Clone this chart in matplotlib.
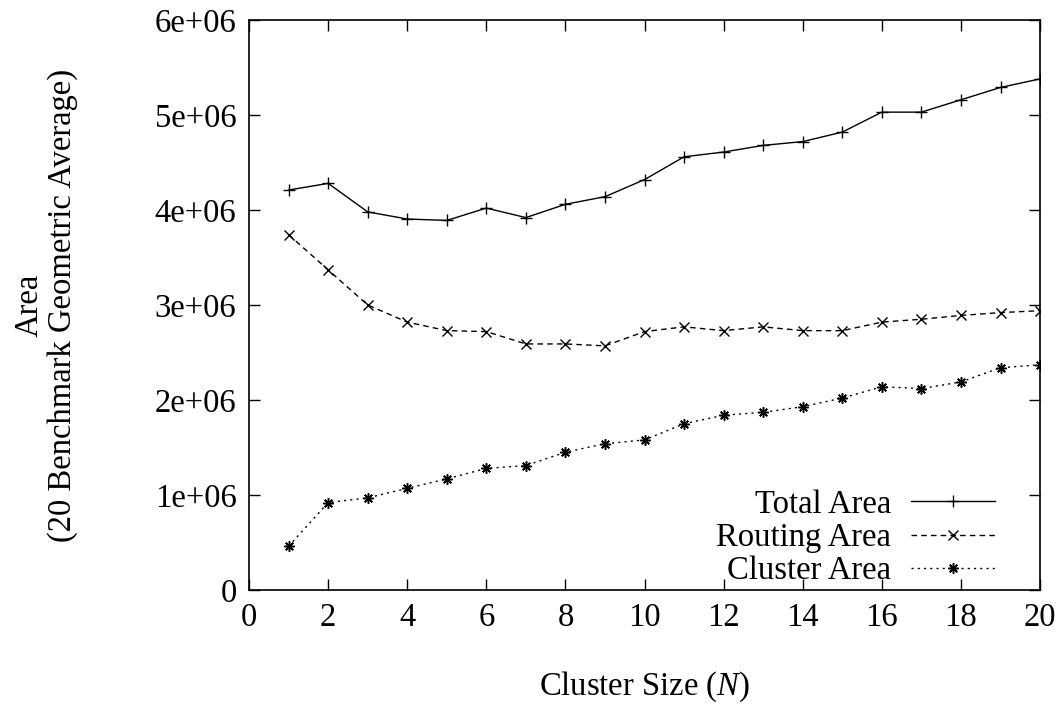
import matplotlib
matplotlib.use("Agg")
import matplotlib.pyplot as plt

plt.rcParams['font.family'] = ['Liberation Serif', 'DejaVu Serif']
plt.rcParams['mathtext.fontset'] = 'custom'
plt.rcParams['mathtext.it'] = 'Liberation Serif:italic'
plt.rcParams['mathtext.rm'] = 'Liberation Serif'

# cluster size N
cluster_size = list(range(1, 21))

# areas (in units of 1e6)
total_area = [4.21, 4.28, 3.98, 3.905, 3.89, 4.02, 3.92, 4.06, 4.14, 4.32,
              4.56, 4.61, 4.68, 4.72, 4.82, 5.03, 5.03, 5.16, 5.29, 5.38]
routing_area = [3.74, 3.37, 3.00, 2.82, 2.73, 2.72, 2.59, 2.59, 2.57, 2.72,
                2.77, 2.73, 2.77, 2.73, 2.73, 2.82, 2.85, 2.89, 2.92, 2.94]
cluster_area = [0.46, 0.92, 0.97, 1.07, 1.17, 1.28, 1.31, 1.45, 1.54, 1.58,
                1.75, 1.84, 1.87, 1.93, 2.02, 2.14, 2.12, 2.19, 2.34, 2.37]

y_ticks = [0, 1e6, 2e6, 3e6, 4e6, 5e6, 6e6]
y_tick_labels = ["0", "1e+06", "2e+06", "3e+06", "4e+06", "5e+06", "6e+06"]

fs = 23.5

fig = plt.figure(figsize=(10.57, 7.06), dpi=100)
ax = fig.add_axes([0.2356, 0.1643, 0.984 - 0.2356, 0.9717 - 0.1643])

ax.plot(cluster_size, [v * 1e6 for v in total_area], color='black', lw=1.0,
        ls='-', marker='+', ms=8, mew=1.0, label='Total Area')
ax.plot(cluster_size, [v * 1e6 for v in routing_area], color='black', lw=1.0,
        ls=(0, (4, 3)), marker='x', ms=6.5, mew=1.0, label='Routing Area')
ax.plot(cluster_size, [v * 1e6 for v in cluster_area], color='black', lw=1.0,
        ls=(0, (1.5, 3)), marker=(8, 2, 0), ms=7.5, mew=1.1, label='Cluster Area')

ax.set_xlim(0, 20)
ax.set_ylim(0, 6e6)
ax.set_xticks(range(0, 21, 2))
ax.set_yticks(y_ticks)
ax.set_yticklabels(y_tick_labels)
ax.tick_params(direction='in', length=8, width=1, top=True, right=True,
               labelsize=fs, pad=9)
for s in ax.spines.values():
    s.set_linewidth(1.2)

ax.set_xlabel("Cluster Size ($N$)", fontsize=fs, labelpad=26)
ax.set_ylabel("Area\n(20 Benchmark Geometric Average)", fontsize=fs,
              labelpad=55, linespacing=1.1)

ax.legend(loc='lower right', frameon=False, markerfirst=False, fontsize=fs,
          handlelength=2.6, handletextpad=0.6, labelspacing=0.08,
          borderaxespad=0.0, bbox_to_anchor=(0.96, -0.016))

fig.savefig("out.png", dpi=100)
